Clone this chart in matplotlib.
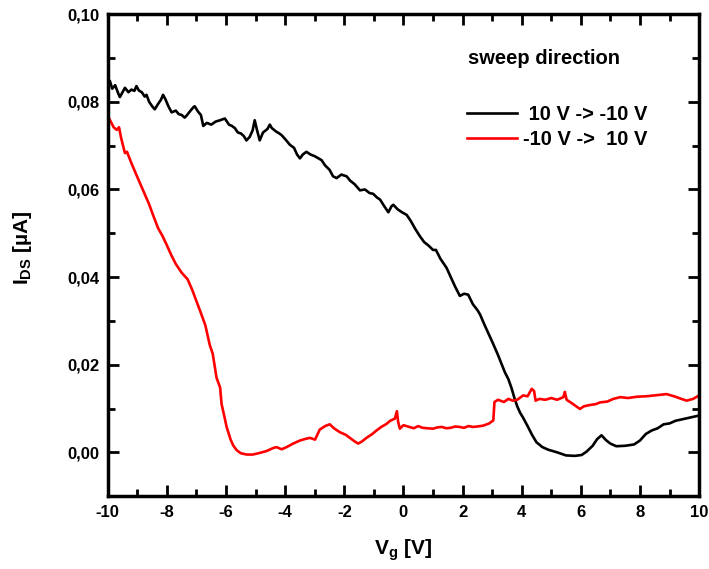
import matplotlib
matplotlib.use("Agg")
import matplotlib.pyplot as plt
from matplotlib.ticker import MultipleLocator, FuncFormatter

# ---- data ----
vg_black = [-10.0, -9.93, -9.85, -9.75, -9.65, -9.59, -9.5, -9.42, -9.3, -9.2, -9.1, -9.03,
            -8.95, -8.85, -8.75, -8.69, -8.6, -8.5, -8.41, -8.3, -8.2, -8.13, -8.05, -7.95,
            -7.84, -7.7, -7.6, -7.5, -7.4, -7.34, -7.2, -7.1, -7.06, -6.95, -6.85, -6.77,
            -6.65, -6.5, -6.35, -6.2, -6.04, -5.9, -5.8, -5.7, -5.6, -5.5, -5.4, -5.31,
            -5.2, -5.1, -5.03, -4.95, -4.86, -4.75, -4.6, -4.52, -4.45, -4.3, -4.2, -4.12,
            -4.0, -3.84, -3.7, -3.6, -3.5, -3.4, -3.28, -3.15, -3.0, -2.9, -2.77, -2.65,
            -2.5, -2.38, -2.26, -2.1, -1.92, -1.8, -1.65, -1.47, -1.3, -1.15, -1.02, -0.9,
            -0.79, -0.65, -0.51, -0.4, -0.34, -0.2, -0.05, 0.11, 0.25, 0.4, 0.56, 0.7,
            0.85, 1.0, 1.1, 1.25, 1.46, 1.6, 1.75, 1.91, 2.05, 2.19, 2.35, 2.5, 2.59,
            2.75, 2.9, 3.04, 3.2, 3.3, 3.43, 3.55, 3.65, 3.75, 3.85, 3.95, 4.04, 4.2,
            4.35, 4.5, 4.7, 4.9, 5.2, 5.5, 5.8, 6.03, 6.2, 6.4, 6.55, 6.7, 6.85, 7.0,
            7.2, 7.5, 7.8, 8.0, 8.2, 8.4, 8.6, 8.8, 9.0, 9.2, 9.4, 9.6, 9.8, 10.0]
ids_black = [0.0835, 0.0848, 0.0830, 0.0838, 0.0820, 0.0811, 0.0822, 0.0832, 0.0822, 0.0828,
             0.0825, 0.0836, 0.0826, 0.0822, 0.0812, 0.0816, 0.0800, 0.0790, 0.0783, 0.0795,
             0.0805, 0.0816, 0.0806, 0.0790, 0.0776, 0.0780, 0.0772, 0.0770, 0.0764, 0.0768,
             0.0780, 0.0788, 0.0790, 0.0778, 0.0770, 0.0745, 0.0752, 0.0748, 0.0755, 0.0758,
             0.0762, 0.0748, 0.0745, 0.0740, 0.0730, 0.0728, 0.0722, 0.0712, 0.0720, 0.0735,
             0.0758, 0.0735, 0.0712, 0.0730, 0.0738, 0.0748, 0.0740, 0.0732, 0.0728, 0.0724,
             0.0715, 0.0702, 0.0695, 0.0680, 0.0671, 0.0680, 0.0686, 0.0680, 0.0676, 0.0672,
             0.0667, 0.0655, 0.0645, 0.0630, 0.0626, 0.0634, 0.0630, 0.0620, 0.0612, 0.0598,
             0.0600, 0.0592, 0.0590, 0.0582, 0.0577, 0.0562, 0.0548, 0.0562, 0.0565, 0.0555,
             0.0548, 0.0542, 0.0528, 0.0510, 0.0493, 0.0480, 0.0472, 0.0462, 0.0462, 0.0442,
             0.0421, 0.0400, 0.0378, 0.0357, 0.0362, 0.0360, 0.0338, 0.0325, 0.0315, 0.0290,
             0.0268, 0.0247, 0.0222, 0.0205, 0.0183, 0.0167, 0.0148, 0.0125, 0.0105, 0.0090,
             0.0080, 0.0060, 0.0040, 0.0023, 0.0012, 0.0006, 0.0000, -0.0007, -0.0008, -0.0006,
             0.0002, 0.0015, 0.0030, 0.0039, 0.0028, 0.0020, 0.0014, 0.0015, 0.0018, 0.0027,
             0.0042, 0.0050, 0.0055, 0.0064, 0.0066, 0.0072, 0.0075, 0.0078, 0.0081, 0.0084]

vg_red = [-10.0, -9.9, -9.8, -9.7, -9.62, -9.55, -9.42, -9.35, -9.2, -9.03, -8.85, -8.69,
          -8.6, -8.47, -8.3, -8.15, -8.01, -7.85, -7.7, -7.5, -7.3, -7.15, -7.0, -6.85,
          -6.7, -6.55, -6.45, -6.32, -6.2, -6.15, -6.05, -5.98, -5.85, -5.76, -5.64, -5.5,
          -5.3, -5.1, -4.9, -4.63, -4.4, -4.29, -4.12, -3.95, -3.73, -3.5, -3.3, -3.16,
          -2.99, -2.83, -2.65, -2.49, -2.35, -2.15, -1.95, -1.81, -1.65, -1.53, -1.4, -1.25,
          -1.05, -0.91, -0.75, -0.57, -0.45, -0.29, -0.22, -0.18, -0.12, 0.0, 0.2, 0.35,
          0.5, 0.65, 0.8, 1.0, 1.15, 1.3, 1.45, 1.6, 1.75, 1.9, 2.05, 2.2, 2.35, 2.5,
          2.7, 2.9, 3.04, 3.08, 3.2, 3.4, 3.55, 3.7, 3.85, 4.05, 4.2, 4.34, 4.42, 4.47,
          4.6, 4.8, 5.0, 5.2, 5.41, 5.46, 5.52, 5.7, 5.97, 6.1, 6.3, 6.5, 6.65, 6.9, 7.1,
          7.33, 7.6, 7.9, 8.2, 8.5, 8.9, 9.2, 9.4, 9.58, 9.8, 10.0]
ids_red = [0.0768, 0.0755, 0.0742, 0.0736, 0.0742, 0.0718, 0.0683, 0.0686, 0.0660, 0.0633,
           0.0605, 0.0580, 0.0566, 0.0542, 0.0512, 0.0494, 0.0474, 0.0450, 0.0430, 0.0410,
           0.0395, 0.0372, 0.0345, 0.0318, 0.0290, 0.0245, 0.0225, 0.0170, 0.0148, 0.0110,
           0.0080, 0.0058, 0.0030, 0.0016, 0.0005, -0.0002, -0.0005, -0.0005, -0.0002, 0.0003,
           0.0010, 0.0012, 0.0007, 0.0012, 0.0020, 0.0027, 0.0031, 0.0033, 0.0029, 0.0052,
           0.0060, 0.0064, 0.0055, 0.0046, 0.0040, 0.0033, 0.0025, 0.0020, 0.0025, 0.0033,
           0.0042, 0.0050, 0.0058, 0.0065, 0.0072, 0.0077, 0.0094, 0.0070, 0.0054, 0.0062,
           0.0058, 0.0055, 0.0060, 0.0056, 0.0055, 0.0054, 0.0057, 0.0058, 0.0055, 0.0056,
           0.0059, 0.0058, 0.0056, 0.0060, 0.0058, 0.0059, 0.0061, 0.0066, 0.0073, 0.0115,
           0.0120, 0.0115, 0.0122, 0.0118, 0.0120, 0.0130, 0.0128, 0.0145, 0.0140, 0.0118,
           0.0122, 0.0120, 0.0124, 0.0120, 0.0126, 0.0138, 0.0120, 0.0112, 0.0099, 0.0105,
           0.0108, 0.0110, 0.0114, 0.0116, 0.0122, 0.0126, 0.0124, 0.0127, 0.0128, 0.0130,
           0.0133, 0.0127, 0.0122, 0.0118, 0.0122, 0.0130]

label_black = " 10 V -> -10 V"
label_red = "-10 V ->  10 V"
legend_title = "sweep direction"

# ---- style ----
plt.rcParams['font.family'] = ['Liberation Sans', 'DejaVu Sans']
plt.rcParams['font.weight'] = 'bold'
plt.rcParams['mathtext.fontset'] = 'custom'
plt.rcParams['mathtext.rm'] = 'Liberation Sans:bold'
plt.rcParams['mathtext.it'] = 'Liberation Sans:bold'
plt.rcParams['mathtext.bf'] = 'Liberation Sans:bold'

fig = plt.figure(figsize=(7.09, 5.69), dpi=100)
ax = fig.add_axes([0.152, 0.128, 0.834, 0.847])

ax.plot(vg_black, ids_black, color='black', lw=1.9, label=label_black)
ax.plot(vg_red, ids_red, color='#ff0000', lw=1.9, label=label_red)

ax.set_xlim(-10, 10)
ax.set_ylim(-0.01, 0.10)
ax.xaxis.set_major_locator(MultipleLocator(2))
ax.xaxis.set_minor_locator(MultipleLocator(1))
ax.yaxis.set_major_locator(MultipleLocator(0.02))
ax.yaxis.set_minor_locator(MultipleLocator(0.01))
ax.yaxis.set_major_formatter(FuncFormatter(lambda v, p: ("%.2f" % v).replace('.', ',')))
ax.xaxis.set_major_formatter(FuncFormatter(lambda v, p: "%d" % round(v)))

ax.tick_params(which='both', direction='in', top=True, right=True, width=2,
               labelsize=12, pad=6)
ax.tick_params(which='major', length=8)
ax.tick_params(which='minor', length=5)
for lab in ax.get_xticklabels() + ax.get_yticklabels():
    lab.set_fontweight('bold')
for s in ax.spines.values():
    s.set_linewidth(2.5)

ax.set_xlabel("V$_{\\rm g}$ [V]", fontsize=15, fontweight='bold', labelpad=13)
ax.set_ylabel("I$_{\\rm DS}$ [\u00b5A]", fontsize=15, fontweight='bold')
ax.yaxis.set_label_coords(-0.124, 0.515)

ax.text(0.609, 0.909, legend_title, transform=ax.transAxes, fontsize=14.5,
        fontweight='bold', va='center', ha='left')
leg = ax.legend(loc='upper left', bbox_to_anchor=(0.6074, 0.812), frameon=False,
                fontsize=14.5, handlelength=2.5, handletextpad=0.3, labelspacing=0.3,
                borderaxespad=0, borderpad=0)
for t in leg.get_texts():
    t.set_fontweight('bold')

fig.savefig("out.png", dpi=100)
